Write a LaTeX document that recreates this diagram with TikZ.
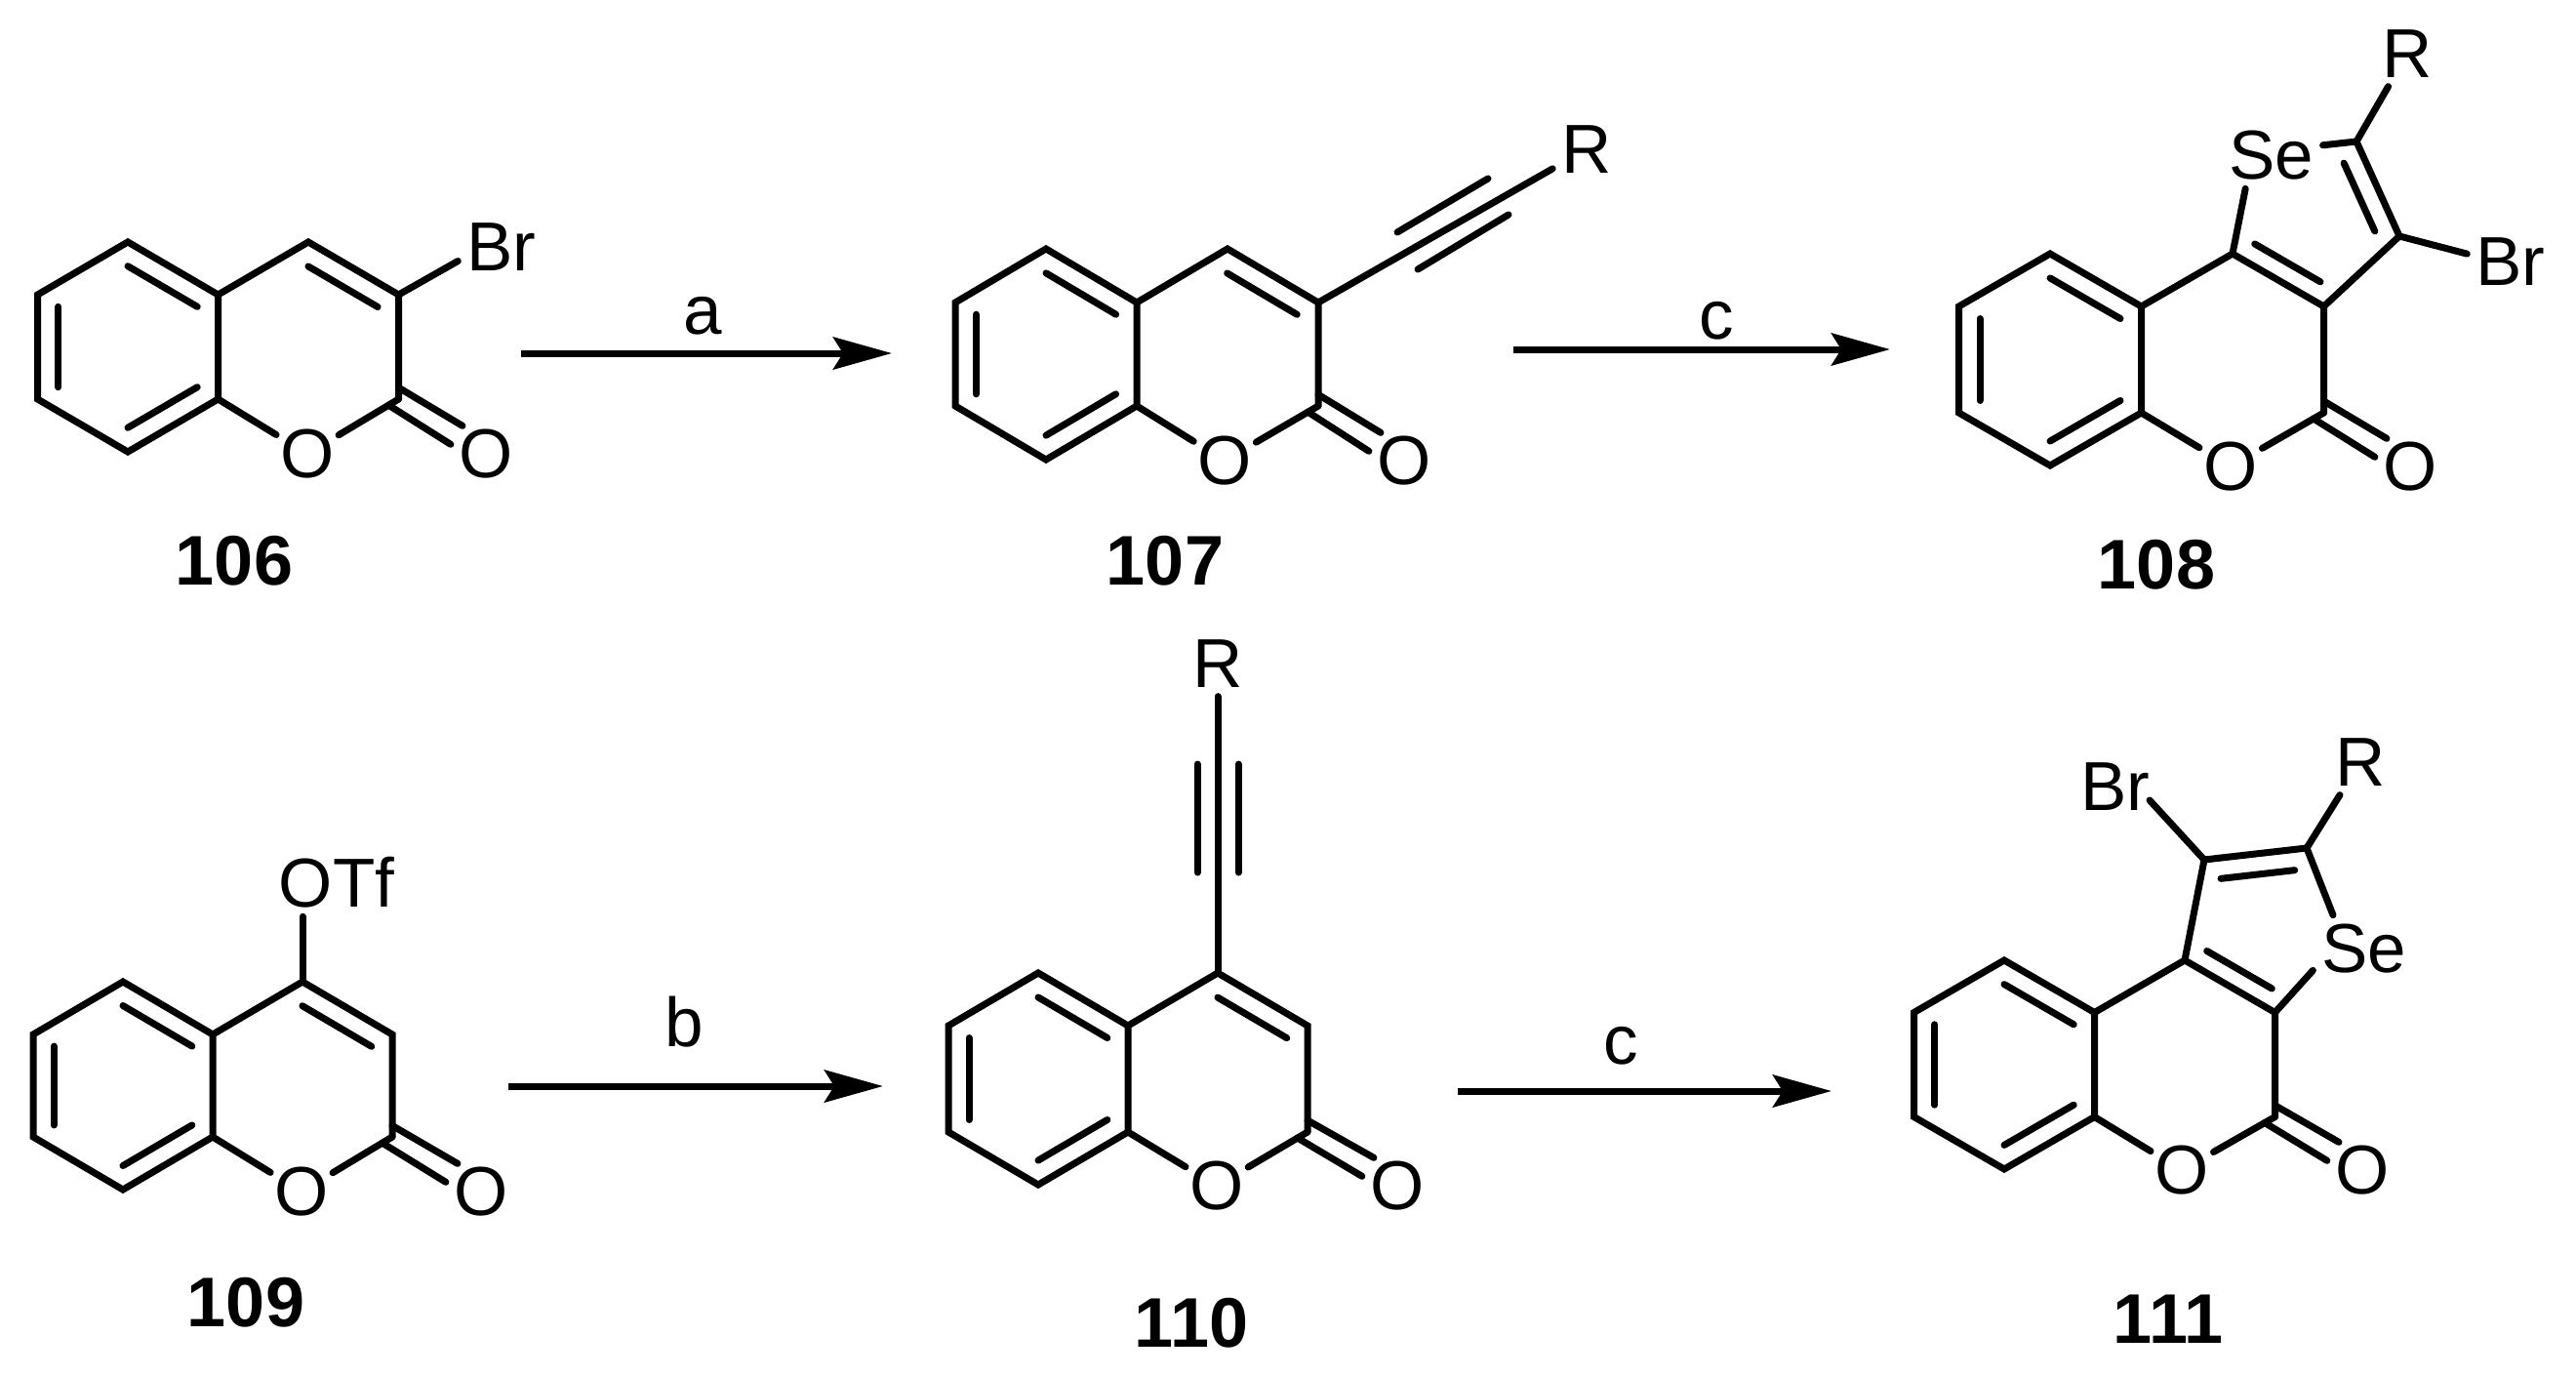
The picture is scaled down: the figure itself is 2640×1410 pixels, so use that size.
\documentclass[tikz,border=0pt]{standalone}
\usepackage{fontspec}
\setmainfont{Liberation Sans}
\usetikzlibrary{calc}
\usetikzlibrary{positioning,arrows.meta}

\begin{document}
\begin{tikzpicture}[x=1pt, y=-1pt, font=\fontsize{71}{80}\selectfont,
        bond/.style={line width=7pt, line cap=round, line join=miter},
        rxn/.style={-{Stealth[length=60pt,width=33pt,inset=10pt]}, line width=7pt},
        atom/.style={circle, inner sep=0pt},
        group/.style={rectangle, inner sep=9pt},
        reagent/.style={inner sep=0pt},
        cpd/.style={font=\fontsize{72}{80}\selectfont\bfseries, inner sep=0pt}]
        \useasboundingbox (0,0) rectangle (2640,1410);

        %% Bromocoumarin
        \coordinate (C5) at (131,248);
        \coordinate[below left=54pt and 92.5pt of C5] (C6);
        \coordinate[below=107pt of C6] (C7);
        \coordinate[below right=54pt and 92.5pt of C7] (C8);
        \coordinate[above right=54pt and 92.5pt of C8] (C8a);
        \coordinate[above=107pt of C8a] (C4a);
        \coordinate[above right=54pt and 92.5pt of C4a] (C4);
        \coordinate[below right=54pt and 92.5pt of C4] (C3);
        \coordinate[below=107pt of C3] (C2);
        \node[atom] (Or) at (315,465) {O};
        \node[atom] (Oc) at (498,465) {O};
        \node[group] (Br) at (514,253) {Br};
        \node[cpd] (l1) at (240,575) {106};
        \coordinate (Bz) at ($(C5)!.5!(C8)$);
        \coordinate (Py) at ($(C4)!.5!(Or)$);

        \draw[bond] (C5) -- (C6) -- (C7) -- (C8) -- (C8a) -- (C4a) -- cycle;
        \draw[bond] (C4a) -- (C4) -- (C3) -- (C2);
        \draw[bond] (C8a) -- (Or);
        \draw[bond] (C2) -- (Or);
        \draw[bond] (C3) -- (Br.198);
        \draw[bond] ($(C5)!.23!(Bz)$) -- ($(C4a)!.23!(Bz)$);
        \draw[bond] ($(C6)!.23!(Bz)$) -- ($(C7)!.23!(Bz)$);
        \draw[bond] ($(C8)!.23!(Bz)$) -- ($(C8a)!.23!(Bz)$);
        \draw[bond] ($(C4)!.23!(Py)$) -- ($(C3)!.23!(Py)$);
        \draw[bond] ($(C2)!.11!(C3)$) -- (Oc.130);
        \draw[bond] ($(C2)!.11!(Or)$) -- (Oc.165);

        %% Step a
        \coordinate (A1) at (534,362);
        \coordinate (A2) at (914,362);
        \draw[rxn] (A1) -- node[reagent, pos=.49, above=15pt] (la) {a} (A2);

        %% Alkynylcoumarin
        \coordinate (C5) at (1072,255);
        \coordinate[below left=55pt and 93pt of C5] (C6);
        \coordinate[below=106pt of C6] (C7);
        \coordinate[below right=55pt and 93pt of C7] (C8);
        \coordinate[above right=55pt and 93pt of C8] (C8a);
        \coordinate[above=106pt of C8a] (C4a);
        \coordinate[above right=55pt and 93pt of C4a] (C4);
        \coordinate[below right=55pt and 93pt of C4] (C3);
        \coordinate[below=106pt of C3] (C2);
        \node[atom] (Or) at (1255,472) {O};
        \node[atom] (Oc) at (1439,472) {O};
        \node[group] (R) at (1626,153) {R};
        \node[cpd] (l2) at (1194,575) {107};
        \coordinate (Bz) at ($(C5)!.5!(C8)$);
        \coordinate (Py) at ($(C4)!.5!(Or)$);
        \coordinate (T1) at (1432,238);
        \coordinate (T2) at (1525,183);
        \coordinate (T3) at (1453,276);
        \coordinate (T4) at (1546,220);

        \draw[bond] (C5) -- (C6) -- (C7) -- (C8) -- (C8a) -- (C4a) -- cycle;
        \draw[bond] (C4a) -- (C4) -- (C3) -- (C2);
        \draw[bond] (C8a) -- (Or);
        \draw[bond] (C2) -- (Or);
        \draw[bond] (C3) -- (R);
        \draw[bond] (T1) -- (T2);
        \draw[bond] (T3) -- (T4);
        \draw[bond] ($(C5)!.23!(Bz)$) -- ($(C4a)!.23!(Bz)$);
        \draw[bond] ($(C6)!.23!(Bz)$) -- ($(C7)!.23!(Bz)$);
        \draw[bond] ($(C8)!.23!(Bz)$) -- ($(C8a)!.23!(Bz)$);
        \draw[bond] ($(C4)!.23!(Py)$) -- ($(C3)!.23!(Py)$);
        \draw[bond] ($(C2)!.11!(C3)$) -- (Oc.130);
        \draw[bond] ($(C2)!.11!(Or)$) -- (Oc.165);

        %% Step c, top row
        \coordinate (A1) at (1551,358);
        \coordinate (A2) at (1937,358);
        \draw[rxn] (A1) -- node[reagent, pos=.54, above=6pt] (lc1) {c} (A2);

        %% Selenophene fused, top row
        \coordinate (C5) at (2101,260);
        \coordinate[below left=54pt and 93.5pt of C5] (C6);
        \coordinate[below=109pt of C6] (C7);
        \coordinate[below right=54pt and 93.5pt of C7] (C8);
        \coordinate[above right=54pt and 93.5pt of C8] (C8a);
        \coordinate[above=109pt of C8a] (C4a);
        \coordinate[above right=54pt and 93.5pt of C4a] (C4);
        \coordinate[below right=54pt and 93.5pt of C4] (C3);
        \coordinate[below=109pt of C3] (C2);
        \coordinate (Cb) at (2459,242);
        \coordinate (Ca) at (2415,145);
        \node[atom] (Or) at (2286,478) {O};
        \node[atom] (Oc) at (2470,478) {O};
        \node[group] (Se) at (2328,159) {Se};
        \node[group] (R) at (2467,55) {R};
        \node[group] (Br) at (2573,268) {Br};
        \node[cpd] (l3) at (2210,579) {108};
        \coordinate (Bz) at ($(C5)!.5!(C8)$);
        \coordinate (Th) at (2369,224);

        \draw[bond] (C5) -- (C6) -- (C7) -- (C8) -- (C8a) -- (C4a) -- cycle;
        \draw[bond] (C4a) -- (C4) -- (C3) -- (C2);
        \draw[bond] (C8a) -- (Or);
        \draw[bond] (C2) -- (Or);
        \draw[bond] (C3) -- (Cb) -- (Ca);
        \draw[bond] (C4) -- (Se.232);
        \draw[bond] (Ca) -- (Se.11);
        \draw[bond] (Ca) -- (R);
        \draw[bond] (Cb) -- (Br.170);
        \draw[bond] ($(C5)!.23!(Bz)$) -- ($(C4a)!.23!(Bz)$);
        \draw[bond] ($(C6)!.23!(Bz)$) -- ($(C7)!.23!(Bz)$);
        \draw[bond] ($(C8)!.23!(Bz)$) -- ($(C8a)!.23!(Bz)$);
        \draw[bond] ($(C4)!.28!(Th)$) -- ($(C3)!.28!(Th)$);
        \draw[bond] ($(Ca)!.28!(Th)$) -- ($(Cb)!.28!(Th)$);
        \draw[bond] ($(C2)!.11!(C3)$) -- (Oc.130);
        \draw[bond] ($(C2)!.11!(Or)$) -- (Oc.165);

        %% Triflate
        \coordinate (C5) at (126,1006);
        \coordinate[below left=54pt and 92pt of C5] (C6);
        \coordinate[below=105pt of C6] (C7);
        \coordinate[below right=54pt and 92pt of C7] (C8);
        \coordinate[above right=54pt and 92pt of C8] (C8a);
        \coordinate[above=105pt of C8a] (C4a);
        \coordinate[above right=54pt and 92pt of C4a] (C4);
        \coordinate[below right=54pt and 92pt of C4] (C3);
        \coordinate[below=105pt of C3] (C2);
        \node[atom] (Or) at (309,1221) {O};
        \node[atom] (Oc) at (493,1221) {O};
        \node[group] (OTf) at (345,904) {OTf};
        \node[cpd] (l4) at (252,1335) {109};
        \coordinate (Bz) at ($(C5)!.5!(C8)$);
        \coordinate (Py) at ($(C4)!.5!(Or)$);

        \draw[bond] (C5) -- (C6) -- (C7) -- (C8) -- (C8a) -- (C4a) -- cycle;
        \draw[bond] (C4a) -- (C4) -- (C3) -- (C2);
        \draw[bond] (C8a) -- (Or);
        \draw[bond] (C2) -- (Or);
        \draw[bond] (C4) -- (C4 |- OTf.south);
        \draw[bond] ($(C5)!.23!(Bz)$) -- ($(C4a)!.23!(Bz)$);
        \draw[bond] ($(C6)!.23!(Bz)$) -- ($(C7)!.23!(Bz)$);
        \draw[bond] ($(C8)!.23!(Bz)$) -- ($(C8a)!.23!(Bz)$);
        \draw[bond] ($(C4)!.23!(Py)$) -- ($(C3)!.23!(Py)$);
        \draw[bond] ($(C2)!.11!(C3)$) -- (Oc.130);
        \draw[bond] ($(C2)!.11!(Or)$) -- (Oc.165);

        %% Step b
        \coordinate (A1) at (521,1113);
        \coordinate (A2) at (905,1113);
        \draw[rxn] (A1) -- node[reagent, pos=.47, above=36pt] (lb) {b} (A2);

        %% 4-alkynylcoumarin
        \coordinate (C5) at (1064,997);
        \coordinate[below left=54pt and 92pt of C5] (C6);
        \coordinate[below=109pt of C6] (C7);
        \coordinate[below right=54pt and 92pt of C7] (C8);
        \coordinate[above right=54pt and 92pt of C8] (C8a);
        \coordinate[above=109pt of C8a] (C4a);
        \coordinate[above right=54pt and 92pt of C4a] (C4);
        \coordinate[below right=54pt and 92pt of C4] (C3);
        \coordinate[below=109pt of C3] (C2);
        \node[atom] (Or) at (1247,1215) {O};
        \node[atom] (Oc) at (1432,1215) {O};
        \node[group] (R) at (1248,680) {R};
        \node[cpd] (l5) at (1221,1356) {110};
        \coordinate (Bz) at ($(C5)!.5!(C8)$);
        \coordinate (Py) at ($(C4)!.5!(Or)$);
        \coordinate (T1) at (1227,783);
        \coordinate (T2) at (1227,894);
        \coordinate (T3) at (1269,783);
        \coordinate (T4) at (1269,894);

        \draw[bond] (C5) -- (C6) -- (C7) -- (C8) -- (C8a) -- (C4a) -- cycle;
        \draw[bond] (C4a) -- (C4) -- (C3) -- (C2);
        \draw[bond] (C8a) -- (Or);
        \draw[bond] (C2) -- (Or);
        \draw[bond] (C4) -- (R);
        \draw[bond] (T1) -- (T2);
        \draw[bond] (T3) -- (T4);
        \draw[bond] ($(C5)!.23!(Bz)$) -- ($(C4a)!.23!(Bz)$);
        \draw[bond] ($(C6)!.23!(Bz)$) -- ($(C7)!.23!(Bz)$);
        \draw[bond] ($(C8)!.23!(Bz)$) -- ($(C8a)!.23!(Bz)$);
        \draw[bond] ($(C4)!.23!(Py)$) -- ($(C3)!.23!(Py)$);
        \draw[bond] ($(C2)!.11!(C3)$) -- (Oc.130);
        \draw[bond] ($(C2)!.11!(Or)$) -- (Oc.165);

        %% Step c, bottom row
        \coordinate (A1) at (1494,1118);
        \coordinate (A2) at (1877,1118);
        \draw[rxn] (A1) -- node[reagent, pos=.436, above=23pt] (lc2) {c} (A2);

        %% Selenophene fused, bottom row
        \coordinate (C5) at (2054,984);
        \coordinate[below left=53.5pt and 92.5pt of C5] (C6);
        \coordinate[below=107pt of C6] (C7);
        \coordinate[below right=53.5pt and 92.5pt of C7] (C8);
        \coordinate[above right=53.5pt and 92.5pt of C8] (C8a);
        \coordinate[above=107pt of C8a] (C4a);
        \coordinate[above right=53.5pt and 92.5pt of C4a] (C4);
        \coordinate[below right=53.5pt and 92.5pt of C4] (C3);
        \coordinate[below=107pt of C3] (C2);
        \coordinate (Cb) at (2259,881);
        \coordinate (Ca) at (2364,869);
        \node[atom] (Or) at (2236,1199) {O};
        \node[atom] (Oc) at (2421,1199) {O};
        \node[group] (Se) at (2423,972) {Se};
        \node[group] (R) at (2419,781) {R};
        \node[group] (Br) at (2168,806) {Br};
        \coordinate[below right=14pt and 35pt of Br.center] (BrEnd);
        \node[cpd] (l6) at (2222,1352) {111};
        \coordinate (Bz) at ($(C5)!.5!(C8)$);
        \coordinate (Th) at (2320,950);

        \draw[bond] (C5) -- (C6) -- (C7) -- (C8) -- (C8a) -- (C4a) -- cycle;
        \draw[bond] (C4a) -- (C4) -- (C3) -- (C2);
        \draw[bond] (C8a) -- (Or);
        \draw[bond] (C2) -- (Or);
        \draw[bond] (C4) -- (Cb) -- (Ca);
        \draw[bond] (C3) -- (Se.203);
        \draw[bond] (Ca) -- (Se.133);
        \draw[bond] (Ca) -- (R);
        \draw[bond] (Cb) -- (BrEnd);
        \draw[bond] ($(C5)!.23!(Bz)$) -- ($(C4a)!.23!(Bz)$);
        \draw[bond] ($(C6)!.23!(Bz)$) -- ($(C7)!.23!(Bz)$);
        \draw[bond] ($(C8)!.23!(Bz)$) -- ($(C8a)!.23!(Bz)$);
        \draw[bond] ($(C4)!.28!(Th)$) -- ($(C3)!.28!(Th)$);
        \draw[bond] ($(Ca)!.28!(Th)$) -- ($(Cb)!.28!(Th)$);
        \draw[bond] ($(C2)!.11!(C3)$) -- (Oc.130);
        \draw[bond] ($(C2)!.11!(Or)$) -- (Oc.165);
\end{tikzpicture}
\end{document}
